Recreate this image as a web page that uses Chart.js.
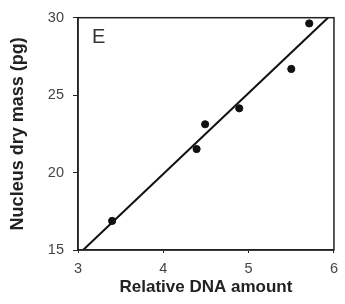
<!DOCTYPE html>
<html><head><meta charset="utf-8">
<script src="https://cdn.jsdelivr.net/npm/chart.js@4/dist/chart.umd.min.js"></script>
<style>html,body{margin:0;padding:0;background:#fff}#wrap{width:345px;height:304px}</style>
</head><body><div id="wrap"><canvas id="c" width="345" height="304"></canvas></div>
<script>
const dnaAmount = [3.4, 4.39, 4.49, 4.89, 5.5, 5.71];
const dryMass = [16.88, 21.52, 23.12, 24.15, 26.69, 29.63];
const fitX = [3.06, 5.93];
const fitY = [15, 30];
const xTicks = [3, 4, 5, 6];
const yTicks = [15, 20, 25, 30];
const panelLabel = 'E';
const xTitle = 'Relative DNA amount';
const yTitle = 'Nucleus dry mass (pg)';

const boxPlugin = {
  id: 'box',
  afterDraw(chart) {
    const {ctx, chartArea: a} = chart;
    ctx.save();
    ctx.strokeStyle = '#222';
    ctx.lineWidth = 1.5;
    ctx.strokeRect(a.left, a.top, a.right - a.left, a.bottom - a.top);
    ctx.fillStyle = '#333';
    ctx.font = '20px "Liberation Sans", Arial, sans-serif';
    ctx.textBaseline = 'top';
    ctx.fillText(panelLabel, a.left + 14, a.top + 10);
    ctx.restore();
  }
};

new Chart(document.getElementById('c'), {
  type: 'scatter',
  data: {
    datasets: [
      {
        data: dnaAmount.map((x, i) => ({x, y: dryMass[i]})),
        backgroundColor: '#111', borderColor: '#111',
        pointRadius: 3.6, pointHoverRadius: 3.6
      },
      {
        type: 'line',
        data: fitX.map((x, i) => ({x, y: fitY[i]})),
        borderColor: '#111', borderWidth: 2, pointRadius: 0, fill: false
      }
    ]
  },
  options: {
    responsive: false, animation: false,
    layout: {padding: {left: 3, right: 10, top: 16, bottom: 2}},
    plugins: {legend: {display: false}, tooltip: {enabled: false}},
    scales: {
      x: {
        type: 'linear', min: 3, max: 6,
        afterBuildTicks(s) { s.ticks = xTicks.map(v => ({value: v})); },
        afterFit(s) { s.height = 52; },
        grid: {drawOnChartArea: false, drawTicks: true, tickLength: 3, color: '#222'},
        border: {color: '#222', width: 1.5},
        ticks: {color: '#444', font: {family: '"Liberation Sans", Arial', size: 14.5}, padding: 7},
        title: {display: true, text: xTitle, color: '#222', font: {family: '"Liberation Sans", Arial', size: 17, weight: 'bold'}, padding: {top: 0}}
      },
      y: {
        type: 'linear', min: 15, max: 30,
        afterBuildTicks(s) { s.ticks = yTicks.map(v => ({value: v})); },
        afterFit(s) { s.width = 75; },
        grid: {drawOnChartArea: false, drawTicks: true, tickLength: 5, color: '#222'},
        border: {color: '#222', width: 1.5},
        ticks: {color: '#444', font: {family: '"Liberation Sans", Arial', size: 14.5}, padding: 9},
        title: {display: true, text: yTitle, color: '#222', font: {family: '"Liberation Sans", Arial', size: 18, weight: 'bold'}, padding: {bottom: 0}}
      }
    }
  },
  plugins: [boxPlugin]
});
</script></body></html>
